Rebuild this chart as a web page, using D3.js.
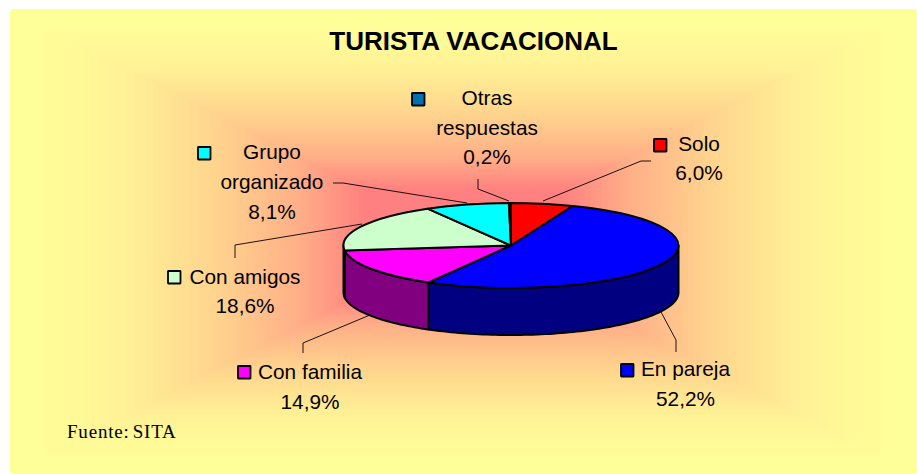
<!DOCTYPE html>
<html><head><meta charset="utf-8">
<script src="https://cdnjs.cloudflare.com/ajax/libs/d3/7.8.5/d3.min.js"></script>
<style>html,body{margin:0;padding:0;background:#fff}svg{display:block}text{font-family:"Liberation Sans",Arial,sans-serif;fill:#000}</style>
</head><body><div id="c"></div>
<script>
const categories=["Solo","En pareja","Con familia","Con amigos","Grupo organizado","Otras respuestas"];
const values=[6.0,52.2,14.9,18.6,8.1,0.2];
const valueLabels=["6,0%","52,2%","14,9%","18,6%","8,1%","0,2%"];
const topColors=["#ff0000","#0000ff","#ff00ff","#ccffcc","#00ffff","#0070b0"];
const sideColors=["#800000","#000080","#800080","#668066","#008080","#003858"];
const title="TURISTA VACACIONAL";
const source="Fuente: SITA";

const W=917,H=474;
const svg=d3.select("#c").append("svg").attr("width",W).attr("height",H);

// rectangular "path" gradient background
const bg={x:10,y:9,w:907,h:465};
const cx0=bg.x+bg.w/2, cy0=bg.y+bg.h/2;
const bgColor=d3.scaleLinear().domain([0,.22,.37,.55,.74,.86,.95,1])
  .range(["#ff8080","#ff8080","#ffb088","#ffd48e","#fff096","#fffa98","#ffff99","#ffff99"]).clamp(true);
svg.append("rect").attr("width",W).attr("height",H).attr("fill","#fff");
const steps=d3.range(200,0,-1).map(d=>d/200);
svg.append("g").selectAll("rect").data(steps).join("rect")
  .attr("x",t=>cx0-t*bg.w/2).attr("y",t=>cy0-t*bg.h/2)
  .attr("width",t=>t*bg.w).attr("height",t=>t*bg.h)
  .attr("rx",t=>t===1?3:0)
  .attr("fill",t=>bgColor(t));

// pie
const cx=511,cy=245.5,rx=167.5,ry=42.5,depth=47;
const pie=d3.pie().sort(null).value(d=>d)(values);
const g=svg.append("g");
const px=a=>cx+rx*Math.sin(a), py=a=>cy-ry*Math.cos(a);
const sideLine=d3.line();
const A=Math.PI/2,B=3*Math.PI/2;
pie.forEach((s,i)=>{
  const a=Math.max(s.startAngle,A), b=Math.min(s.endAngle,B);
  if(b<=a) return;
  const n=Math.max(2,Math.ceil((b-a)*40));
  const top=d3.range(n+1).map(k=>a+(b-a)*k/n);
  const pts=top.map(t=>[px(t),py(t)]).concat(top.slice().reverse().map(t=>[px(t),py(t)+depth]));
  g.append("path").attr("d",sideLine(pts)+"Z").attr("fill",sideColors[i])
   .attr("stroke","#000").attr("stroke-width",2).attr("stroke-linejoin","round");
});
const arc=d3.arc().innerRadius(0).outerRadius(rx);
g.append("g").attr("transform",`translate(${cx},${cy}) scale(1,${ry/rx})`)
 .selectAll("path").data(pie).join("path")
 .attr("d",arc).attr("fill",(d,i)=>topColors[i])
 .attr("stroke","#000").attr("stroke-width",2).attr("stroke-linejoin","round")
 .attr("vector-effect","non-scaling-stroke");

// leader lines
const leaderPaths=[
 [[543,201],[641,161],[651,161]],
 [[661,312],[676,340],[676,352]],
 [[370,315],[303,343],[303,353]],
 [[362,224],[235,245],[235,258]],
 [[467,203],[343,183],[333,183]],
 [[509,201],[478,189],[478,179]]
];
svg.append("g").selectAll("path").data(leaderPaths).join("path")
 .attr("d",d3.line()).attr("fill","none").attr("stroke","#000").attr("stroke-width",.9);

// labels: lines [text,xCenter,yBaseline], swatch [x,y]
const labelLayout=[
 {sw:[654,139],lines:[["Solo",699,151],["6,0%",699,180]]},
 {sw:[621,364],lines:[["En pareja",685.5,376],["52,2%",685.5,406]]},
 {sw:[238,366],lines:[["Con familia",310,379],["14,9%",310,409]]},
 {sw:[168,271],lines:[["Con amigos",245,284],["18,6%",245,313]]},
 {sw:[198,147],lines:[["Grupo",272,159],["organizado",272,189],["8,1%",272,219]]},
 {sw:[412,93],lines:[["Otras",487,105],["respuestas",487,135],["0,2%",487,164]]}
];
const lab=svg.append("g");
labelLayout.forEach((l,i)=>{
  lab.append("rect").attr("x",l.sw[0]).attr("y",l.sw[1]).attr("width",12.5).attr("height",12.5)
    .attr("fill",topColors[i]).attr("stroke","#000").attr("stroke-width",1.8).attr("rx",.5);
  l.lines.forEach(t=>lab.append("text").attr("x",t[1]).attr("y",t[2]).attr("text-anchor","middle")
    .attr("font-size",20.8).text(t[0]));
});
svg.append("text").attr("x",473.5).attr("y",50).attr("text-anchor","middle")
  .attr("font-size",26).attr("font-weight","bold").text(title);
svg.append("text").attr("x",67).attr("y",438).attr("font-size",19)
  .attr("letter-spacing",.8).attr("word-spacing",-2.5)
  .style("font-family",'"Liberation Serif","Times New Roman",serif').text(source);
</script></body></html>
